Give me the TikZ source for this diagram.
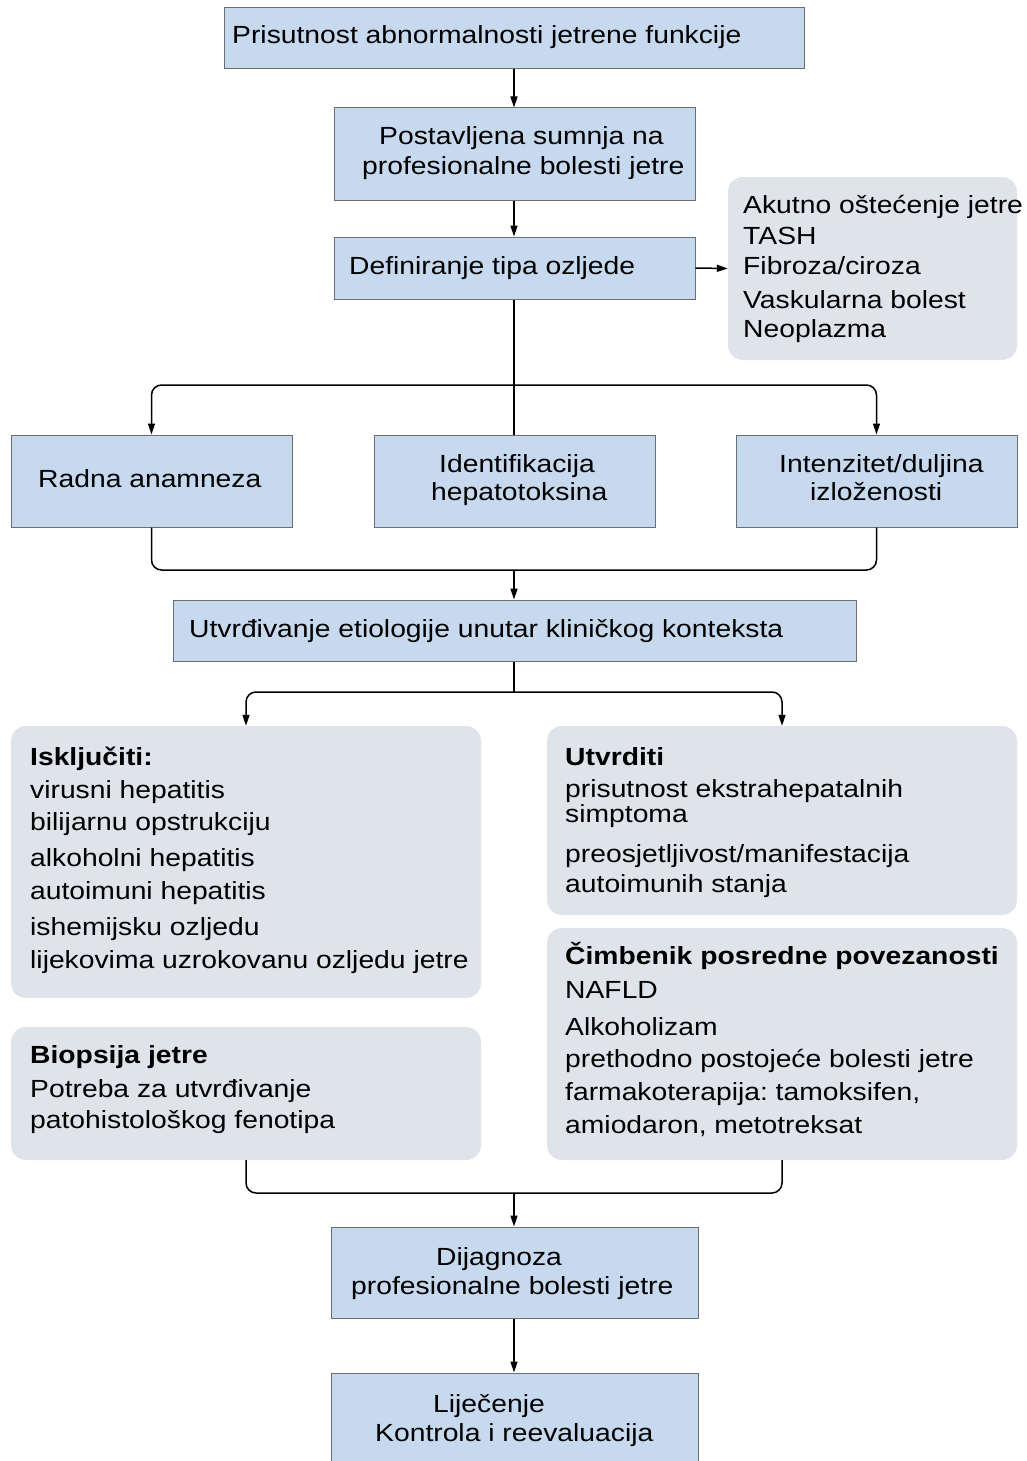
\documentclass[tikz,border=0pt]{standalone}
\usepackage{fontspec}
\setmainfont{Liberation Sans}[FakeStretch=1.14]
\usetikzlibrary{arrows.meta}
\definecolor{boxblue}{HTML}{C6D9EE}
\definecolor{boxgray}{HTML}{DFE3EA}
\definecolor{edgegray}{HTML}{6A6F75}
\frenchspacing
\begin{document}
\begin{tikzpicture}[x=1pt,y=-1pt,
  bluebox/.style={draw=edgegray, line width=1pt, fill=boxblue, inner sep=0pt, rectangle},
  graybox/.style={fill=boxgray, draw=none, inner sep=0pt, rectangle, rounded corners=15pt},
  txt/.style={anchor=base west, inner sep=0pt, font=\fontsize{24.8}{29}\selectfont},
  btxt/.style={txt, font=\fontsize{24.8}{29}\selectfont\bfseries},
  conn/.style={line width=1.5pt, black, rounded corners=10pt},
  arr/.style={conn, -{Triangle[length=11pt,width=7pt]}}]
\fill[white] (0,0) rectangle (1026,1461);
\useasboundingbox (0,0) rectangle (1026,1461);

% boxes
\node[bluebox, minimum width=580pt, minimum height=61pt] (b1) at (514,38.5) {};
\node[bluebox, minimum width=361pt, minimum height=92pt] (b2) at (514.5,154) {};
\node[bluebox, minimum width=361pt, minimum height=62pt] (b3) at (514.5,268) {};
\node[graybox, minimum width=289pt, minimum height=183pt] (g1) at (872.5,268.5) {};
\node[bluebox, minimum width=281pt, minimum height=92pt] (r1) at (151.5,481) {};
\node[bluebox, minimum width=281pt, minimum height=92pt] (r2) at (514.5,481) {};
\node[bluebox, minimum width=281pt, minimum height=92pt] (r3) at (876.5,481) {};
\node[bluebox, minimum width=683pt, minimum height=61pt] (b4) at (514.5,630.5) {};
\node[graybox, minimum width=470pt, minimum height=272pt] (gL1) at (246,862) {};
\node[graybox, minimum width=470pt, minimum height=189pt] (gR1) at (782,820.5) {};
\node[graybox, minimum width=470pt, minimum height=133pt] (gL2) at (246,1093.5) {};
\node[graybox, minimum width=470pt, minimum height=232pt] (gR2) at (782,1044) {};
\node[bluebox, minimum width=367pt, minimum height=91pt] (b5) at (514.5,1272.5) {};
\node[bluebox, minimum width=367pt, minimum height=107pt] (b6) at (514.5,1426.5) {};

% texts
\node[txt] (t1) at (232,44) {Prisutnost abnormalnosti jetrene funkcije};
\node[txt] (t2a) at (379,145) {Postavljena sumnja na};
\node[txt] (t2b) at (362,174) {profesionalne bolesti jetre};
\node[txt] (t3) at (349,274) {Definiranje tipa ozljede};
\node[txt] (g1a) at (743,213) {Akutno oštećenje jetre};
\node[txt] (g1b) at (743,244) {TASH};
\node[txt] (g1c) at (743,274) {Fibroza/ciroza};
\node[txt] (g1d) at (743,308) {Vaskularna bolest};
\node[txt] (g1e) at (743,337) {Neoplazma};
\node[txt] (r1a) at (38,487) {Radna anamneza};
\node[txt] (r2a) at (439,472) {Identifikacija};
\node[txt] (r2b) at (431,500) {hepatotoksina};
\node[txt] (r3a) at (779,472) {Intenzitet/duljina};
\node[txt] (r3b) at (810,500) {izloženosti};
\node[txt] (t4) at (189,637) {Utvrđivanje etiologije unutar kliničkog konteksta};
\node[btxt] (l1) at (30,765) {Isključiti:};
\node[txt] (l2) at (30,798) {virusni hepatitis};
\node[txt] (l3) at (30,830) {bilijarnu opstrukciju};
\node[txt] (l4) at (30,866) {alkoholni hepatitis};
\node[txt] (l5) at (30,899) {autoimuni hepatitis};
\node[txt] (l6) at (30,935) {ishemijsku ozljedu};
\node[txt] (l7) at (30,968) {lijekovima uzrokovanu ozljedu jetre};
\node[btxt] (p1) at (30,1063) {Biopsija jetre};
\node[txt] (p2) at (30,1097) {Potreba za utvrđivanje};
\node[txt] (p3) at (30,1128) {patohistološkog fenotipa};
\node[btxt] (u1) at (565,765) {Utvrditi};
\node[txt] (u2) at (565,797) {prisutnost ekstrahepatalnih};
\node[txt] (u3) at (565,822) {simptoma};
\node[txt] (u4) at (565,862) {preosjetljivost/manifestacija};
\node[txt] (u5) at (565,892) {autoimunih stanja};
\node[btxt] (c1) at (565,964) {Čimbenik posredne povezanosti};
\node[txt] (c2) at (565,998) {NAFLD};
\node[txt] (c3) at (565,1035) {Alkoholizam};
\node[txt] (c4) at (565,1067) {prethodno postojeće bolesti jetre};
\node[txt] (c5) at (565,1100) {farmakoterapija: tamoksifen,};
\node[txt] (c6) at (565,1133) {amiodaron, metotreksat};
\node[txt] (d1) at (436,1265) {Dijagnoza};
\node[txt] (d2) at (351,1294) {profesionalne bolesti jetre};
\node[txt] (e1) at (433,1412) {Liječenje};
\node[txt] (e2) at (375,1441) {Kontrola i reevaluacija};

% connectors
\coordinate (s1) at (514,385);
\coordinate (m1) at (514,570);
\coordinate (s2) at (514,692);
\coordinate (m2) at (514,1193);
\draw[arr] (b1.south) -- (b1.south |- b2.north);
\draw[arr] (s1 |- b2.south) -- (s1 |- b3.north);
\draw[arr] (b3.east) -- (g1.west);
\draw[conn] (s1 |- b3.south) -- (s1 |- r2.north);
\draw[arr] (s1) -| (r1.north);
\draw[arr] (s1) -| (r3.north);
\draw[conn] (r1.south) |- (m1) -| (r3.south);
\draw[arr] (m1) -- (m1 |- b4.north);
\draw[conn] (s2 |- b4.south) -- (s2);
\draw[arr] (s2) -| (gL1.north);
\draw[arr] (s2) -| (gR1.north);
\draw[conn] (gL2.south) |- (m2) -| (gR2.south);
\draw[arr] (m2) -- (m2 |- b5.north);
\draw[arr] (s2 |- b5.south) -- (s2 |- b6.north);
\end{tikzpicture}
\end{document}
